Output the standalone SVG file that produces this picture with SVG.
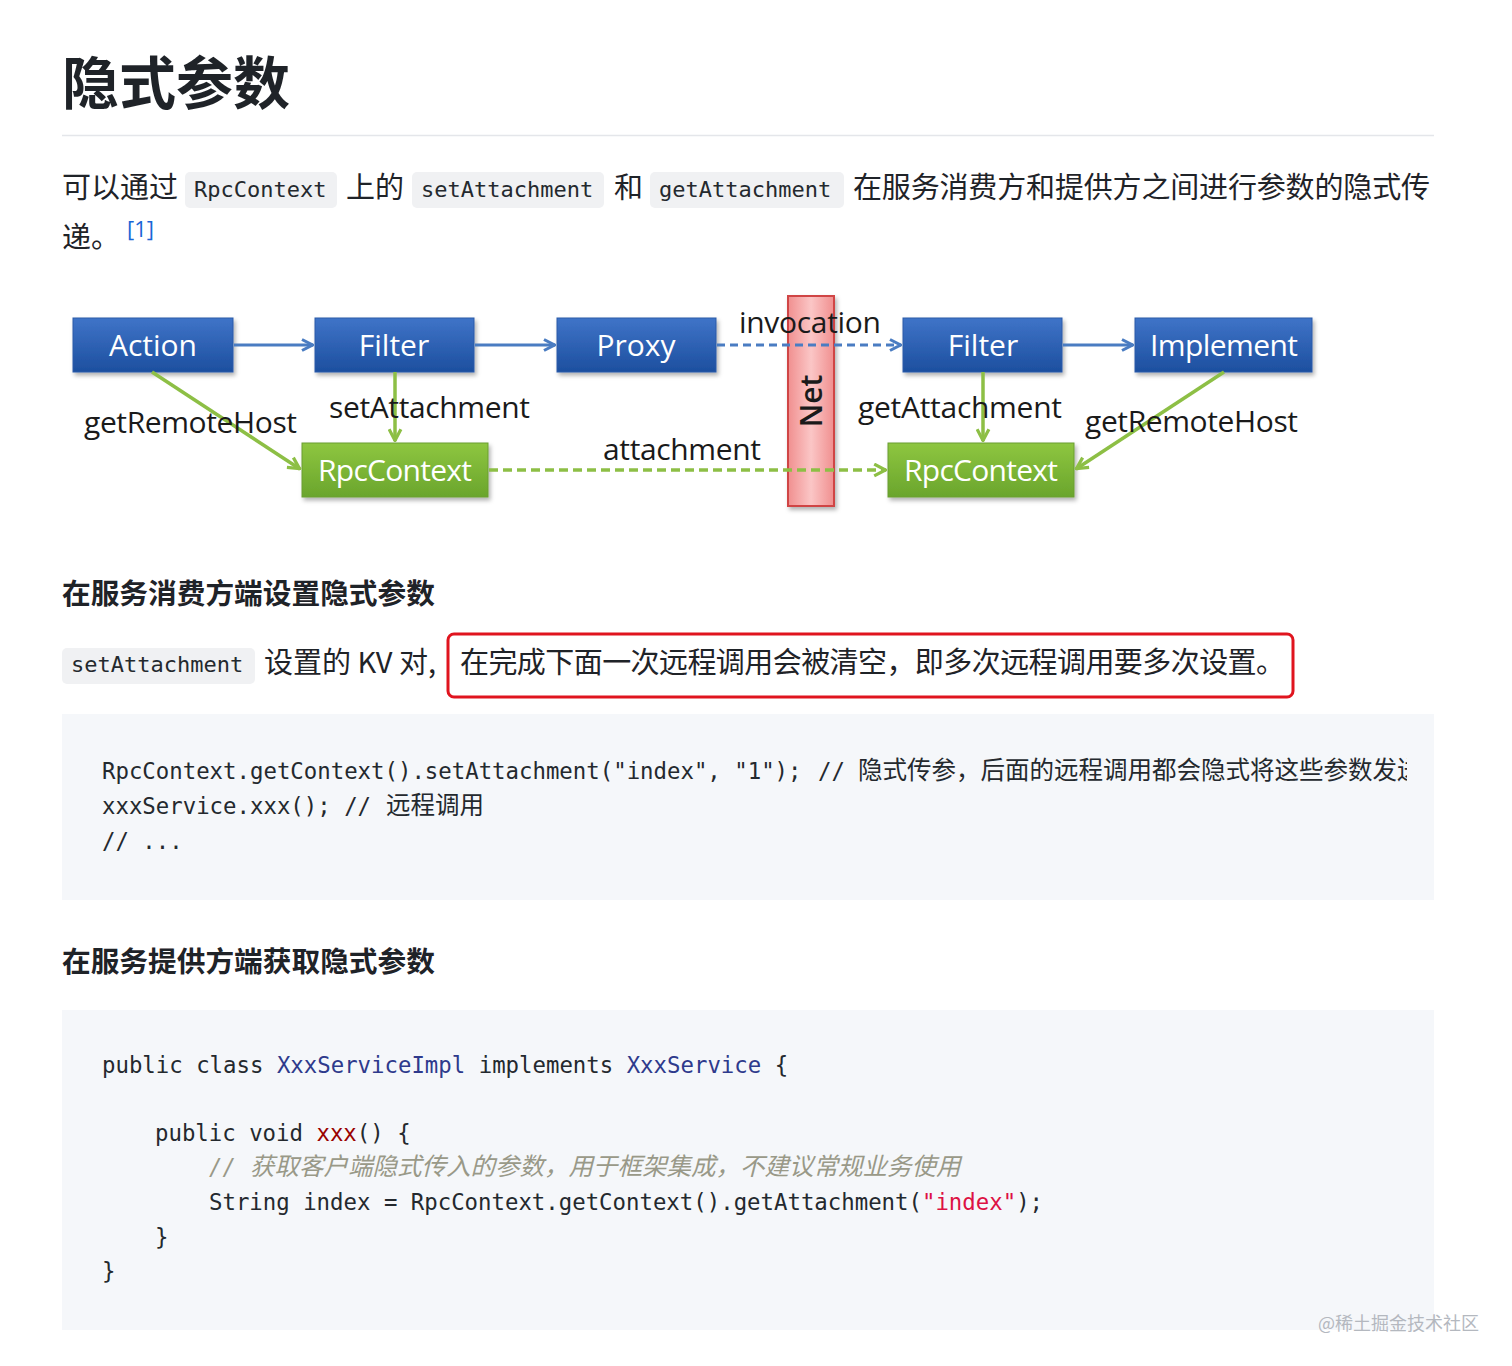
<svg xmlns="http://www.w3.org/2000/svg" width="1512" height="1366" viewBox="0 0 1512 1366">
<style>
.cjk{font-family:"Noto Sans CJK SC","Noto Sans",sans-serif;fill:#1f2328}
.h1{font-size:57px;font-weight:700}
.h2{font-size:28.7px;font-weight:700}
.p{font-size:29px}
.mono{font-family:"DejaVu Sans Mono","Noto Sans CJK SC",monospace;font-size:22px;fill:#24292e}
.code{font-family:"DejaVu Sans Mono","Noto Sans CJK SC",monospace;font-size:22.35px;fill:#24292e}
.zh{font-family:"Noto Sans CJK SC",sans-serif;font-size:24.5px}
.chip{fill:#f0f1f3}
.dg{font-family:"Open Sans","Noto Sans",sans-serif;font-size:30px;fill:#1a1a1a}
.bt{font-family:"Open Sans","Noto Sans",sans-serif;font-size:30px;fill:#fff;text-anchor:middle}
.blue{stroke:#4a7cc2;stroke-width:3;fill:none}
.green{stroke:#8dbf45;stroke-width:3.5;fill:none}
.ty{fill:#2e3a8c}
.fn{fill:#990000}
.str{fill:#dd1144}
.cm{fill:#999988;font-style:italic}
</style>
<defs>
<linearGradient id="gb" x1="0" y1="0" x2="0" y2="1"><stop offset="0" stop-color="#3f74c8"/><stop offset="1" stop-color="#1d4f9f"/></linearGradient>
<linearGradient id="gg" x1="0" y1="0" x2="0" y2="1"><stop offset="0" stop-color="#8ec640"/><stop offset="1" stop-color="#6aa52c"/></linearGradient>
<linearGradient id="gr" x1="0" y1="0" x2="1" y2="0"><stop offset="0" stop-color="#f08f8f"/><stop offset="0.5" stop-color="#fbc6c6"/><stop offset="1" stop-color="#f08f8f"/></linearGradient>
<filter id="sh" x="-10%" y="-10%" width="130%" height="140%"><feDropShadow dx="2" dy="3" stdDeviation="2" flood-color="#000" flood-opacity="0.3"/></filter>
<marker id="ab" viewBox="0 0 14 14" refX="13" refY="7" markerWidth="14" markerHeight="14" markerUnits="userSpaceOnUse" orient="auto"><path d="M2,1.5 L12.5,7 L2,12.5" fill="none" stroke="#4a7cc2" stroke-width="3"/></marker>
<marker id="ag" viewBox="0 0 14 14" refX="13" refY="7" markerWidth="15" markerHeight="15" markerUnits="userSpaceOnUse" orient="auto"><path d="M2,1.5 L12.5,7 L2,12.5" fill="none" stroke="#8dbf45" stroke-width="3"/></marker>
<clipPath id="c1"><rect x="62" y="714" width="1345" height="186"/></clipPath>
</defs>
<rect width="1512" height="1366" fill="#fff"/>

<text x="62" y="104" class="cjk h1">隐式参数</text>
<line x1="62" y1="135.5" x2="1434" y2="135.5" stroke="#e4e6ea" stroke-width="1.5"/>

<g id="para1">
<rect class="chip" x="185" y="172" width="152" height="36" rx="5"/>
<rect class="chip" x="412" y="172" width="192" height="36" rx="5"/>
<rect class="chip" x="650" y="172" width="194" height="36" rx="5"/>
<text x="62" y="198" class="cjk p">可以通过</text>
<text x="194" y="197" class="mono">RpcContext</text>
<text x="346" y="198" class="cjk p">上的</text>
<text x="421" y="197" class="mono">setAttachment</text>
<text x="614" y="198" class="cjk p">和</text>
<text x="659" y="197" class="mono">getAttachment</text>
<text x="853" y="198" class="cjk p" textLength="577">在服务消费方和提供方之间进行参数的隐式传</text>
<text x="62" y="248" class="cjk p">递。</text>
<text x="127" y="237" font-family="'Open Sans',sans-serif" font-size="22" fill="#1a66d6">[1]</text>
</g>

<g id="net"><rect x="788" y="296" width="46" height="210" fill="url(#gr)" stroke="#d04545" stroke-width="2" filter="url(#sh)"/></g>

<g id="node-action"><rect x="73" y="318" width="160" height="54" fill="url(#gb)" stroke="#2a5aa8" filter="url(#sh)"/><text x="153" y="356" class="bt">Action</text></g>
<g id="node-filter1"><rect x="315" y="318" width="159" height="54" fill="url(#gb)" stroke="#2a5aa8" filter="url(#sh)"/><text x="394" y="356" class="bt">Filter</text></g>
<g id="node-proxy"><rect x="557" y="318" width="159" height="54" fill="url(#gb)" stroke="#2a5aa8" filter="url(#sh)"/><text x="636" y="356" class="bt">Proxy</text></g>
<g id="node-filter2"><rect x="903" y="318" width="159" height="54" fill="url(#gb)" stroke="#2a5aa8" filter="url(#sh)"/><text x="983" y="356" class="bt">Filter</text></g>
<g id="node-implement"><rect x="1135" y="318" width="177" height="54" fill="url(#gb)" stroke="#2a5aa8" filter="url(#sh)"/><text x="1224" y="356" class="bt" textLength="148">Implement</text></g>
<g id="node-rpc1"><rect x="302" y="443" width="186" height="54" fill="url(#gg)" stroke="#6a9e30" filter="url(#sh)"/><text x="395" y="481" class="bt" textLength="154">RpcContext</text></g>
<g id="node-rpc2"><rect x="888" y="443" width="186" height="54" fill="url(#gg)" stroke="#6a9e30" filter="url(#sh)"/><text x="981" y="481" class="bt" textLength="154">RpcContext</text></g>

<g id="connectors">
<line class="blue" x1="234" y1="345" x2="313" y2="345" marker-end="url(#ab)"/>
<line class="blue" x1="475" y1="345" x2="555" y2="345" marker-end="url(#ab)"/>
<line class="blue" x1="717" y1="345" x2="901" y2="345" stroke-dasharray="8,5" marker-end="url(#ab)"/>
<line class="blue" x1="1063" y1="345" x2="1133" y2="345" marker-end="url(#ab)"/>
<line class="green" x1="152" y1="372" x2="300" y2="469" marker-end="url(#ag)"/>
<line class="green" x1="395" y1="372" x2="395" y2="441" marker-end="url(#ag)"/>
<line class="green" x1="489" y1="470" x2="886" y2="470" stroke-dasharray="9,5" marker-end="url(#ag)"/>
<line class="green" x1="983" y1="372" x2="983" y2="441" marker-end="url(#ag)"/>
<line class="green" x1="1224" y1="372" x2="1076" y2="469" marker-end="url(#ag)"/>
</g>

<g id="labels">
<text x="739" y="333" class="dg" textLength="142">invocation</text>
<text transform="translate(822,401) rotate(-90)" text-anchor="middle" font-family="'Open Sans',sans-serif" font-size="30" font-weight="600" fill="#1a1a1a">Net</text>
<text x="84" y="433" class="dg" textLength="213">getRemoteHost</text>
<text x="329" y="418" class="dg" textLength="201">setAttachment</text>
<text x="603" y="460" class="dg" textLength="158">attachment</text>
<text x="858" y="418" class="dg" textLength="204">getAttachment</text>
<text x="1085" y="432" class="dg" textLength="213">getRemoteHost</text>
</g>

<text x="62" y="604" class="cjk h2">在服务消费方端设置隐式参数</text>

<g id="para2">
<rect class="chip" x="62" y="648" width="193" height="36" rx="5"/>
<text x="71" y="672" class="mono">setAttachment</text>
<text x="264" y="673" class="cjk p">设置的 KV 对,</text>
<rect x="448" y="634" width="845" height="63" rx="6" fill="none" stroke="#e0141e" stroke-width="3"/>
<text x="460" y="673" class="cjk p" textLength="825">在完成下面一次远程调用会被清空，即多次远程调用要多次设置。</text>
</g>

<g id="code1">
<rect x="62" y="714" width="1372" height="186" fill="#f5f7fa"/>
<g clip-path="url(#c1)">
<text x="102" y="779" class="code">RpcContext.getContext().setAttachment("index", "1");</text>
<text x="818" y="779" class="code">//</text>
<text x="858" y="779" class="code zh">隐式传参，后面的远程调用都会隐式将这些参数发送</text>
</g>
<text x="102" y="814" class="code">xxxService.xxx(); //</text>
<text x="386" y="814" class="code zh">远程调用</text>
<text x="102" y="849" class="code">// ...</text>
</g>

<text x="62" y="972" class="cjk h2">在服务提供方端获取隐式参数</text>

<g id="code2">
<rect x="62" y="1010" width="1372" height="320" fill="#f5f7fa"/>
<text x="102" y="1073" class="code">public class <tspan class="ty">XxxServiceImpl</tspan> implements <tspan class="ty">XxxService</tspan> {</text>
<text x="155" y="1141" class="code">public void <tspan class="fn">xxx</tspan>() {</text>
<text x="209" y="1175" class="code cm">//</text>
<text x="250" y="1175" class="code zh cm">获取客户端隐式传入的参数，用于框架集成，不建议常规业务使用</text>
<text x="209" y="1210" class="code">String index = RpcContext.getContext().getAttachment(<tspan class="str">"index"</tspan>);</text>
<text x="155" y="1245" class="code">}</text>
<text x="102" y="1279" class="code">}</text>
</g>

<text x="1318" y="1330" font-family="'Noto Sans CJK SC',sans-serif" font-size="18" fill="#b4b8bf">@稀土掘金技术社区</text>
</svg>
